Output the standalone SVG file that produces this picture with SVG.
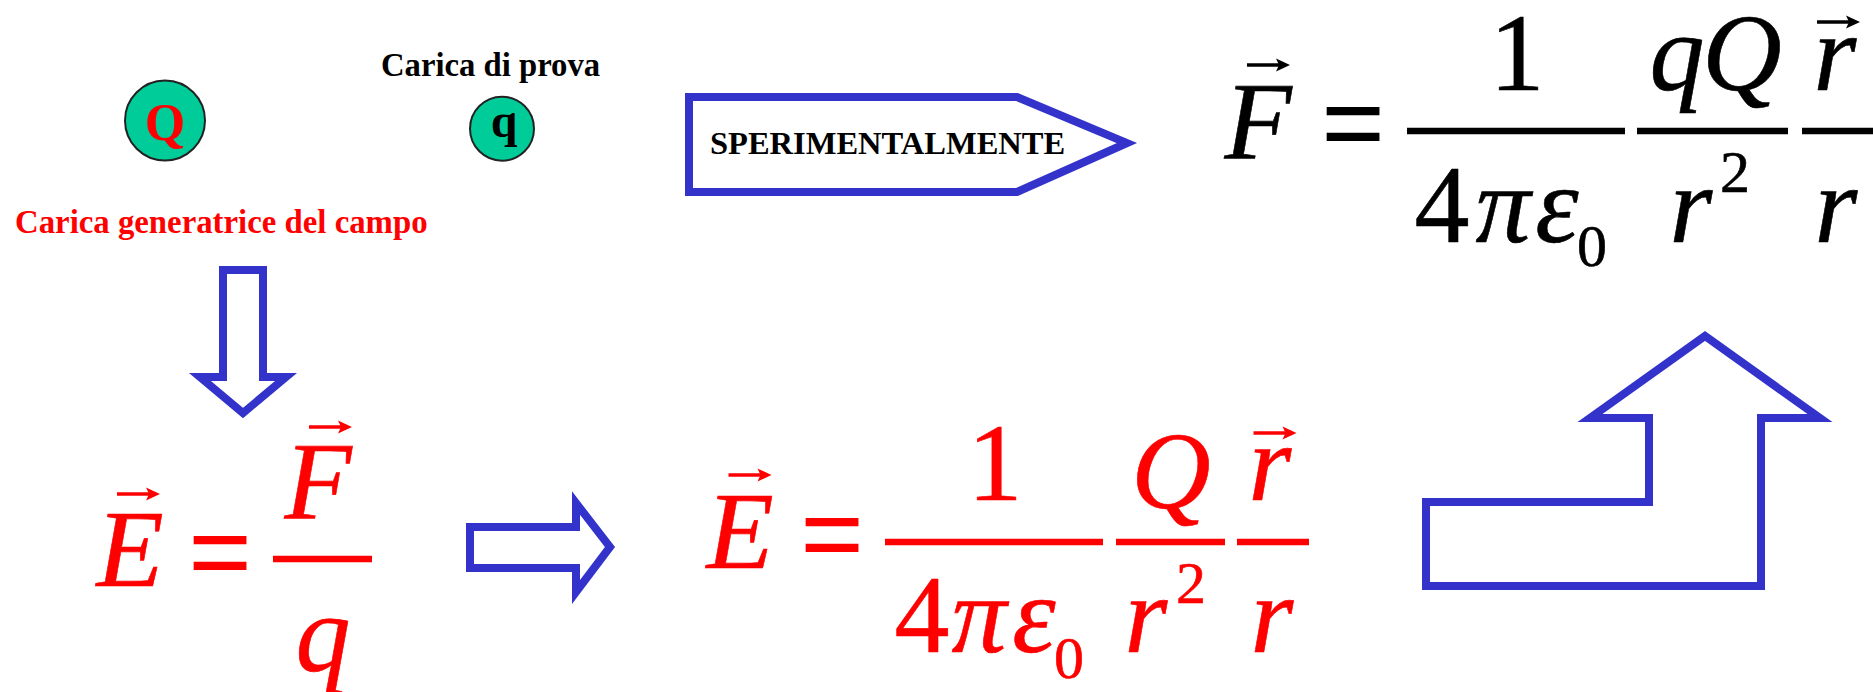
<svg xmlns="http://www.w3.org/2000/svg" width="1873" height="692" viewBox="0 0 1873 692">
<style>
.bl{fill:none;stroke:#3333CC;stroke-width:8;stroke-linejoin:miter;stroke-miterlimit:10}
.t{font-family:"Liberation Serif","Times New Roman",serif;font-weight:bold}
.m{font-family:"Liberation Serif","DejaVu Serif","Times New Roman",serif;font-weight:normal;text-anchor:middle}
.g{font-size:110px}
.s{font-size:60px}
.i{font-style:italic}
.k{fill:#000}
.r{fill:#FF0000}
.hk{stroke:#000;stroke-width:0.6}
.hr{stroke:#FF0000;stroke-width:0.6}
.eq{stroke-width:1.6}
.fb{stroke-width:6.5}
.fbk{stroke:#000}
.fbr{stroke:#FF0000}
</style>
<defs>
<g id="vec">
<path d="M0,0 H35" stroke="currentColor" stroke-width="3.5" fill="none"/>
<path d="M43,0 L29,-6.5 L32,0 L29,6.5 Z" fill="currentColor" stroke="none"/>
</g>
</defs>
<rect width="1873" height="692" fill="#fff"/>

<g id="chargeQ">
<circle cx="165" cy="120.5" r="40" fill="#00CC99" stroke="#222" stroke-width="2"/>
<text class="t r" font-size="52" x="165" y="140" text-anchor="middle">Q</text>
</g>
<g id="chargeq">
<circle cx="502" cy="128.7" r="32" fill="#00CC99" stroke="#222" stroke-width="2"/>
<text class="t k" font-size="48" x="504" y="137" text-anchor="middle">q</text>
</g>
<g id="label-prova"><text class="t k" font-size="32.7" x="381" y="76">Carica di prova</text></g>
<g id="label-generatrice"><text class="t r" font-size="32.8" x="15" y="233">Carica generatrice del campo</text></g>

<g id="sperimentalmente">
<polygon class="bl" points="689,97 1017,97 1127,143 1017,192 689,192"/>
<text class="t k" font-size="32.5" x="710" y="154">SPERIMENTALMENTE</text>
</g>

<g id="connectors">
<polygon class="bl" points="223,270 263,270 263,377 286,377 243,413 200,377 223,377"/>
<polygon class="bl" points="470,527 576,527 576,503 610,547 576,592 576,568 470,568"/>
<polygon class="bl" points="1426,502 1649,502 1649,418 1590,418 1705,336 1820,418 1761,418 1761,586 1426,586"/>
</g>

<g id="formula-F">
<text class="m g i k hk" x="1258" y="158">F</text>
<use href="#vec" x="1247" y="65" color="#000"/>
<text class="m k hk eq" style="font-size:110px" transform="translate(1353,166) scale(1,1.15)">=</text>
<line class="fb fbk" x1="1407" y1="131" x2="1625" y2="131"/>
<line class="fb fbk" x1="1637" y1="131" x2="1788" y2="131"/>
<line class="fb fbk" x1="1802" y1="131" x2="1873" y2="131"/>
<text class="m g k hk" x="1517" y="90">1</text>
<text class="m g i k hk" x="1677" y="90">q</text>
<text class="m g i k hk" x="1742" y="90">Q</text>
<text class="m g i k hk" x="1835" y="90">r</text>
<use href="#vec" x="1817" y="22" color="#000"/>
<text class="m g k hk" x="1442" y="242">4</text>
<text class="m g i k hk" x="1503" y="242">π</text>
<text class="m g i k hk" x="1557" y="242">ε</text>
<text class="m s k hk" x="1592" y="266">0</text>
<text class="m g i k hk" x="1691" y="242">r</text>
<text class="m s k hk" x="1735" y="192">2</text>
<text class="m g i k hk" x="1836" y="242">r</text>
</g>

<g id="formula-E-def">
<text class="m g i r hr" x="130" y="586">E</text>
<use href="#vec" x="117" y="494" color="#FF0000"/>
<text class="m r hr eq" style="font-size:110px" transform="translate(220,594.5) scale(1,1.15)">=</text>
<line class="fb fbr" x1="273" y1="559" x2="372" y2="559"/>
<text class="m g i r hr" x="318" y="518">F</text>
<use href="#vec" x="309" y="427" color="#FF0000"/>
<text class="m g i r hr" x="323" y="671">q</text>
</g>

<g id="formula-E">
<text class="m g i r hr" x="740" y="568">E</text>
<use href="#vec" x="728.5" y="475" color="#FF0000"/>
<text class="m r hr eq" style="font-size:110px" transform="translate(832,577) scale(1,1.15)">=</text>
<line class="fb fbr" x1="885" y1="542" x2="1103" y2="542"/>
<line class="fb fbr" x1="1116" y1="542" x2="1225" y2="542"/>
<line class="fb fbr" x1="1237" y1="542" x2="1309" y2="542"/>
<text class="m g r hr" x="995" y="500">1</text>
<text class="m g i r hr" x="1171" y="508">Q</text>
<text class="m g i r hr" x="1270" y="500">r</text>
<use href="#vec" x="1253.5" y="433" color="#FF0000"/>
<text class="m g r hr" x="922" y="652">4</text>
<text class="m g i r hr" x="979" y="652">π</text>
<text class="m g i r hr" x="1034" y="652">ε</text>
<text class="m s r hr" x="1069" y="678">0</text>
<text class="m g i r hr" x="1146" y="652">r</text>
<text class="m s r hr" x="1191" y="603">2</text>
<text class="m g i r hr" x="1272" y="652">r</text>
</g>
</svg>
